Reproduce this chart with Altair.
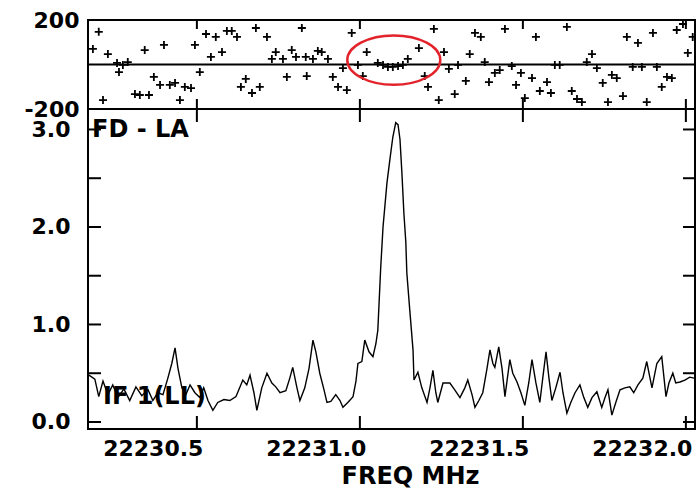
import altair as alt
import pandas as pd

# ---------------- data ----------------
freq = [22230.169, 22230.187, 22230.199, 22230.212, 22230.227, 22230.242, 22230.258, 22230.276,
        22230.294, 22230.313, 22230.331, 22230.350, 22230.365, 22230.380, 22230.396, 22230.411,
        22230.423, 22230.433, 22230.442, 22230.454, 22230.466, 22230.479, 22230.494, 22230.509,
        22230.521, 22230.534, 22230.549, 22230.564, 22230.583, 22230.601, 22230.620, 22230.641,
        22230.653, 22230.663, 22230.675, 22230.684, 22230.699, 22230.715, 22230.730, 22230.742,
        22230.755, 22230.773, 22230.785, 22230.794, 22230.807, 22230.816, 22230.831, 22230.844,
        22230.856, 22230.865, 22230.877, 22230.890, 22230.899, 22230.911, 22230.926, 22230.939,
        22230.948, 22230.963, 22230.979, 22230.988, 22230.994, 22231.006, 22231.015, 22231.028,
        22231.040, 22231.049, 22231.055, 22231.064, 22231.071, 22231.083, 22231.092, 22231.101,
        22231.110, 22231.117, 22231.123, 22231.129, 22231.135, 22231.141, 22231.144, 22231.153,
        22231.163, 22231.166, 22231.178, 22231.190, 22231.206, 22231.215, 22231.224, 22231.233,
        22231.239, 22231.255, 22231.276, 22231.291, 22231.307, 22231.322, 22231.331, 22231.344,
        22231.353, 22231.365, 22231.377, 22231.390, 22231.399, 22231.408, 22231.414, 22231.426,
        22231.436, 22231.445, 22231.460, 22231.469, 22231.482, 22231.494, 22231.506, 22231.518,
        22231.528, 22231.540, 22231.552, 22231.561, 22231.571, 22231.580, 22231.589, 22231.601,
        22231.614, 22231.623, 22231.635, 22231.647, 22231.660, 22231.675, 22231.687, 22231.699,
        22231.712, 22231.727, 22231.742, 22231.752, 22231.761, 22231.773, 22231.785, 22231.798,
        22231.813, 22231.828, 22231.840, 22231.853, 22231.868, 22231.880, 22231.890, 22231.896,
        22231.905, 22231.911, 22231.926, 22231.933, 22231.939, 22231.948, 22231.960, 22231.969,
        22231.982, 22231.997, 22232.012, 22232.025]
amp = [0.48, 0.44, 0.26, 0.42, 0.28, 0.38, 0.25, 0.34,
       0.22, 0.36, 0.27, 0.33, 0.22, 0.30, 0.28, 0.45,
       0.60, 0.76, 0.55, 0.35, 0.28, 0.38, 0.30, 0.25,
       0.35, 0.22, 0.12, 0.20, 0.23, 0.22, 0.26, 0.43,
       0.38, 0.48, 0.30, 0.12, 0.35, 0.50, 0.40, 0.36,
       0.30, 0.32, 0.45, 0.56, 0.35, 0.22, 0.35, 0.55,
       0.84, 0.72, 0.50, 0.33, 0.20, 0.21, 0.28, 0.22,
       0.15, 0.20, 0.26, 0.42, 0.60, 0.62, 0.84, 0.72,
       0.67, 0.80, 0.94, 1.59, 2.00, 2.45, 2.69, 2.92,
       3.07, 3.05, 2.90, 2.55, 2.14, 1.84, 1.53, 1.15,
       0.74, 0.43, 0.51, 0.35, 0.20, 0.35, 0.53, 0.30,
       0.20, 0.40, 0.40, 0.33, 0.25, 0.35, 0.43, 0.28,
       0.15, 0.22, 0.30, 0.55, 0.74, 0.60, 0.56, 0.77,
       0.55, 0.26, 0.64, 0.50, 0.41, 0.30, 0.17, 0.40,
       0.64, 0.40, 0.20, 0.45, 0.72, 0.45, 0.22, 0.35,
       0.51, 0.30, 0.09, 0.20, 0.30, 0.38, 0.25, 0.15,
       0.25, 0.31, 0.15, 0.25, 0.33, 0.07, 0.20, 0.33,
       0.35, 0.36, 0.30, 0.38, 0.45, 0.62, 0.45, 0.35,
       0.50, 0.60, 0.67, 0.45, 0.26, 0.40, 0.50, 0.40,
       0.41, 0.43, 0.46, 0.45]

phase_freq = [22230.199, 22230.181, 22230.227, 22230.255, 22230.273, 22230.288, 22230.261, 22230.340,
              22230.399, 22230.494, 22230.543, 22230.577, 22230.528, 22230.558, 22230.592, 22230.607,
              22230.623, 22230.681, 22230.715, 22230.822, 22230.742, 22230.730, 22230.764, 22230.791,
              22230.804, 22230.834, 22230.856, 22230.871, 22230.883, 22230.902, 22230.948, 22230.933,
              22230.960, 22230.917, 22230.837, 22230.776, 22230.650, 22230.635, 22230.669, 22230.693,
              22230.509, 22230.368, 22230.387, 22230.417, 22230.433, 22230.463, 22230.482, 22230.310,
              22230.325, 22230.353, 22230.212, 22230.448, 22230.975, 22231.021, 22230.994, 22231.009,
              22231.055, 22231.071, 22231.086, 22231.101, 22231.117, 22231.132, 22231.147, 22231.181,
              22231.199, 22231.227, 22231.209, 22231.242, 22231.258, 22231.273, 22231.301, 22231.291,
              22231.325, 22231.337, 22231.353, 22231.371, 22231.383, 22231.396, 22231.414, 22231.429,
              22231.445, 22231.466, 22231.479, 22231.494, 22231.506, 22231.528, 22231.540, 22231.552,
              22231.574, 22231.586, 22231.598, 22231.613, 22231.635, 22231.650, 22231.666, 22231.681,
              22231.696, 22231.712, 22231.727, 22231.745, 22231.761, 22231.773, 22231.788, 22231.807,
              22231.819, 22231.837, 22231.853, 22231.865, 22231.880, 22231.899, 22231.911, 22231.926,
              22231.942, 22231.957, 22231.972, 22231.991, 22232.006, 22232.021]
phase = [147, 70, 47, 7, -2, 11, -34, 65,
         88, 88, 34, 56, 137, 124, 151, 151,
         124, 164, 124, 164, 56, 25, 25, 65,
         34, 34, 25, 61, 56, 25, -16, -101,
         -115, -56, -52, -56, -65, -101, -128, -101,
         -34, -56, -92, -92, -83, -101, -106, -133,
         -137, -137, -160, -160, 142, 56, -2, -52,
         7, -2, -11, -11, -7, -2, 25, 74,
         -52, 160, -101, -160, 56, -20, -2, -133,
         -74, 47, 142, 124, 11, -79, -38, -25,
         160, -7, -92, -38, -151, -61, 124, -119,
         -79, -128, -2, -2, 169, -119, -155, -169,
         11, 47, -16, -83, -169, -47, -61, -142,
         124, -11, 97, -11, -169, 142, -11, -101,
         -56, -61, 155, 182, 52, 124]

x_ticks = [22230.5, 22231.0, 22231.5, 22232.0]
amp_label_values = [0.0, 1.0, 2.0, 3.0]
amp_tick_values = [0.0, 0.5, 1.0, 1.5, 2.0, 2.5, 3.0]
phase_label_values = [-200, 200]
ring_freq = [22231.104]
ring_phase = [20]
panel_labels = ["FD - LA", "IF 1(LL)"]
x_title = "FREQ MHz"

# ---------------- layout ----------------
X_DOMAIN = [22230.166, 22232.028]
AMP_DOMAIN = [-0.072, 3.21]
PHASE_DOMAIN = [-200, 200]
W, H = 607, 409
SPLIT = 89          # pixel row where the phase panel ends
FONT = "DejaVu Sans"
FS = 22

spec_df = pd.DataFrame({"f": freq, "a": amp})
ph_df = pd.DataFrame({"f": phase_freq, "p": phase})
xt_df = pd.DataFrame({"f": x_ticks})
at_df = pd.DataFrame({"v": amp_tick_values})
ring_df = pd.DataFrame({"f": ring_freq, "p": ring_phase})

xs = alt.Scale(domain=X_DOMAIN, nice=False, zero=False)
amp_scale = alt.Scale(domain=AMP_DOMAIN, range=[H, SPLIT], nice=False, zero=False)
ph_scale = alt.Scale(domain=PHASE_DOMAIN, range=[SPLIT, 0], nice=False, zero=False)

lab = dict(labelFont=FONT, labelFontSize=FS, labelFontWeight="bold", labelColor="black",
           ticks=False, domain=False, grid=False, labelFlush=False, labelOverlap=False)

x_axis = alt.Axis(values=x_ticks, format=".1f", labelAlign="right", labelOffset=6,
                  labelPadding=9, title=x_title, titleFont=FONT, titleFontSize=24,
                  titleFontWeight="bold", titleColor="black", titleX=322, titleY=35,
                  titleAlign="center", titleBaseline="top", **lab)

def X():
    return alt.X("f:Q", scale=xs, axis=x_axis, title=x_title)

line = alt.Chart(spec_df).mark_line(color="black", strokeWidth=1.4).encode(
    x=X(),
    y=alt.Y("a:Q", scale=amp_scale,
            axis=alt.Axis(values=amp_label_values, format=".1f", orient="left",
                          labelPadding=18, title=None, **lab)),
)

points = alt.Chart(ph_df).mark_point(
    shape="M-1,0L1,0M0,-1L0,1", size=64, filled=False, stroke="black", strokeWidth=1.8, opacity=1
).encode(
    x=X(),
    y=alt.Y("p:Q", scale=ph_scale,
            axis=alt.Axis(values=phase_label_values, labelExpr="'' + datum.value", orient="left",
                          labelPadding=9, title=None, **lab)),
)

zero_rule = alt.Chart(pd.DataFrame({"p": [0]})).mark_rule(color="black", strokeWidth=2).encode(
    y=alt.Y("p:Q", scale=ph_scale, axis=None))

split_rule = alt.Chart(pd.DataFrame({"p": [PHASE_DOMAIN[0]]})).mark_rule(color="black", strokeWidth=2).encode(
    y=alt.Y("p:Q", scale=ph_scale, axis=None))

def xtick(y0, y1):
    return alt.Chart(xt_df).mark_rule(color="black", strokeWidth=2).encode(
        x=X(), y=alt.value(y0), y2=alt.value(y1))

def ytick(x0, x1):
    return alt.Chart(at_df).mark_rule(color="black", strokeWidth=2).encode(
        y=alt.Y("v:Q", scale=amp_scale, axis=None), x=alt.value(x0), x2=alt.value(x1))

ellipse = ("M-1,0C-1,-0.293,-0.552,-0.53,0,-0.53C0.552,-0.53,1,-0.293,1,0"
           "C1,0.293,0.552,0.53,0,0.53C-0.552,0.53,-1,0.293,-1,0Z")
ring = alt.Chart(ring_df).mark_point(shape=ellipse, size=8650, filled=False,
                                     stroke="#e3232b", strokeWidth=2.5, opacity=1).encode(
    x=X(),
    y=alt.Y("p:Q", scale=ph_scale, axis=None))

txt1 = alt.Chart(pd.DataFrame({"t": [panel_labels[0]]})).mark_text(
    font=FONT, fontSize=24, fontWeight="bold", color="black", align="left", baseline="middle"
).encode(text="t:N", x=alt.value(4), y=alt.value(SPLIT + 21))

txt2 = alt.Chart(pd.DataFrame({"t": [panel_labels[1]]})).mark_text(
    font=FONT, fontSize=24, fontWeight="bold", color="black", align="left", baseline="middle"
).encode(text="t:N", x=alt.value(15), y=alt.value(377))

chart = alt.layer(
    txt2, line, points, zero_rule, split_rule,
    xtick(0, 9), xtick(SPLIT - 10, SPLIT), xtick(SPLIT, SPLIT + 13), xtick(H - 13, H),
    ytick(0, 13), ytick(W - 12, W),
    ring, txt1,
).resolve_scale(y="independent").resolve_axis(y="independent").properties(
    width=W, height=H,
    padding={"left": 88, "top": 20, "right": 1, "bottom": 62},
    autosize=alt.AutoSizeParams(type="none"),
    background="white",
).configure_view(stroke="black", strokeWidth=2)

chart.save("out.html", embed_options={"renderer": "svg", "actions": False})
